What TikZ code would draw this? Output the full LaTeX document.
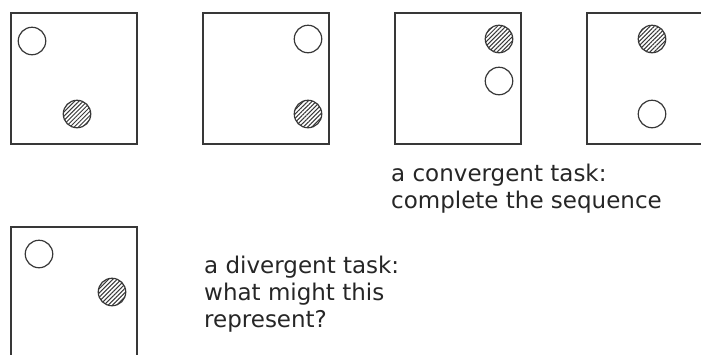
\documentclass[tikz,border=0pt]{standalone}
\usepackage{fontspec}
\setmainfont{DejaVu Sans}
\usetikzlibrary{patterns.meta}
\definecolor{ink}{HTML}{383838}
\definecolor{textink}{HTML}{262626}
\begin{document}
\begin{tikzpicture}[x=1pt, y=-1pt,
            panel/.style={rectangle, draw=ink, line width=1.4pt, minimum width=126pt, minimum height=131pt, inner sep=0pt},
            spot/.style={circle, draw=ink, line width=1.2pt, fill=white, minimum size=27.5pt, inner sep=0pt},
            hatched/.style={spot, pattern={Lines[angle=45, distance=3pt, line width=1pt]}, pattern color=ink},
            caption/.style={anchor=base west, align=left, inner sep=0pt, text=textink, font=\fontsize{23}{27}\selectfont}
        ]
            \useasboundingbox (0,0) rectangle (701,354);
            \clip (0,0) rectangle (701,354);
            % the sequence
            \node[panel] (p1) at (74, 78.5)  {};
            \node[panel] (p2) at (266, 78.5) {};
            \node[panel] (p3) at (458, 78.5) {};
            \node[panel] (p4) at (650, 78.5) {};
            \node[spot]    (w1) at (32, 41)   {};
            \node[hatched] (h1) at (77, 114)  {};
            \node[spot]    (w2) at (308, 39)  {};
            \node[hatched] (h2) at (308, 114) {};
            \node[hatched] (h3) at (499, 39)  {};
            \node[spot]    (w3) at (499, 81)  {};
            \node[hatched] (h4) at (652, 39)  {};
            \node[spot]    (w4) at (652, 114) {};
            \node[caption] (conv) at (391, 208) {a convergent task:\\complete the sequence};
            % the open one
            \node[panel] (p5) at (74, 292.5) {};
            \node[spot]    (w5) at (39, 254)  {};
            \node[hatched] (h5) at (112, 292) {};
            \node[caption] (div) at (204, 327) {a divergent task:\\what might this\\represent?};
        \end{tikzpicture}
\end{document}
